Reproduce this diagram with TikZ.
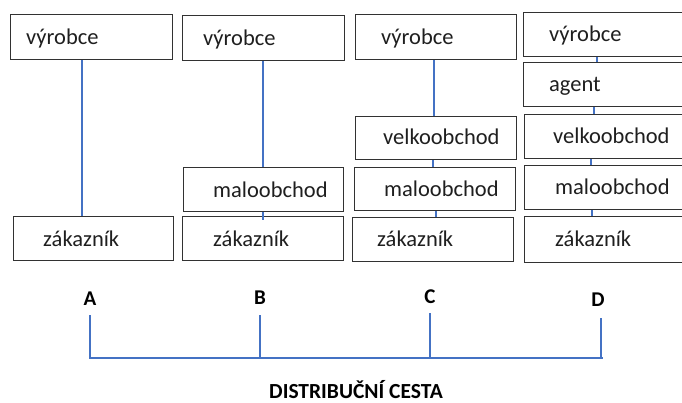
\documentclass[tikz,border=0pt]{standalone}
\usepackage{fontspec}
\setmainfont{Carlito}
\definecolor{lineblue}{RGB}{68,114,196}
\definecolor{boxgray}{RGB}{50,50,50}
\tikzset{
  box/.style={draw=boxgray, line width=1pt, fill=white, inner sep=0pt},
  txt/.style={anchor=base west, inner sep=0pt, font=\fontsize{22.5}{26}\selectfont, text=black!88},
  conn/.style={draw=lineblue, line width=2pt},
  letter/.style={anchor=base, inner sep=0pt, font=\fontsize{21}{24}\selectfont\bfseries},
  titletxt/.style={anchor=base, inner sep=0pt, font=\fontsize{21.5}{24}\selectfont\bfseries},
}
\newcommand{\mybox}[5]{% name, x1, y1, x2, y2
  \node[box, minimum width={#4-#2}, minimum height={#5-#3}] (#1) at ({(#2+#4)/2},{(#3+#5)/2}) {};}
\begin{document}
\begin{tikzpicture}[x=1pt,y=-1pt]
\useasboundingbox (0,0) rectangle (682,403);
% column A
\mybox{a1}{10}{15}{172}{60}
\mybox{a2}{13}{217}{173}{260}
% column B
\mybox{b1}{182}{16}{344}{61}
\mybox{b2}{183}{168}{343}{212}
\mybox{b3}{182}{217}{343}{260}
% column C
\mybox{c1}{355}{15}{516}{60}
\mybox{c2}{355}{117}{516}{160}
\mybox{c3}{354}{168}{515}{211}
\mybox{c4}{352}{218}{513}{261}
% column D
\mybox{d1}{523}{13}{690}{57}
\mybox{d2}{523}{63}{690}{107}
\mybox{d3}{524}{115}{690}{159}
\mybox{d4}{524}{166}{690}{210}
\mybox{d5}{524}{217}{690}{262}
% texts
\node[txt] (ta1) at (26,45) {výrobce};
\node[txt] (ta2) at (43,247) {zákazník};
\node[txt] (tb1) at (203,46) {výrobce};
\node[txt] (tb2) at (213,198) {maloobchod};
\node[txt] (tb3) at (213,247) {zákazník};
\node[txt] (tc1) at (381,45) {výrobce};
\node[txt] (tc2) at (383,145) {velkoobchod};
\node[txt] (tc3) at (384,197) {maloobchod};
\node[txt] (tc4) at (377,247) {zákazník};
\node[txt] (td1) at (549,42) {výrobce};
\node[txt] (td2) at (549,92) {agent};
\node[txt] (td3) at (553,144) {velkoobchod};
\node[txt] (td4) at (555,195) {maloobchod};
\node[txt] (td5) at (555,247) {zákazník};
% connector x positions
\coordinate (xa) at (82,0);
\coordinate (xb) at (263,0);
\coordinate (xc1) at (434,0);
\coordinate (xc2) at (433,0);
\coordinate (xc3) at (436,0);
\coordinate (xd1) at (597,0);
\coordinate (xd2) at (594,0);
\coordinate (xd3) at (591,0);
\coordinate (xd4) at (592,0);
\draw[conn] (xa |- a1.south) -- (xa |- a2.north);
\draw[conn] (xb |- b1.south) -- (xb |- b2.north);
\draw[conn] (xb |- b2.south) -- ++(0,8);
\draw[conn] (xc1 |- c1.south) -- (xc1 |- c2.north);
\draw[conn] (xc2 |- c2.south) -- (xc2 |- c3.north);
\draw[conn] (xc3 |- c3.south) -- (xc3 |- c4.north);
\draw[conn] (xd1 |- d1.south) -- (xd1 |- d2.north);
\draw[conn] (xd2 |- d2.south) -- (xd2 |- d3.north);
\draw[conn] (xd3 |- d3.south) -- (xd3 |- d4.north);
\draw[conn] (xd4 |- d4.south) -- (xd4 |- d5.north);
% bottom
\node[letter] (la) at (90,305) {A};
\node[letter] (lb) at (260,304) {B};
\node[letter] (lc) at (430,303) {C};
\node[letter] (ld) at (598,306) {D};
\coordinate (pa) at (90,315);
\coordinate (pb) at (260,315);
\coordinate (pc) at (430,313);
\coordinate (pd) at (601,318);
\coordinate (ba) at (90,358);
\coordinate (bd) at (603,358);
\draw[conn] (pa) -- (ba) -- (bd);
\draw[conn] (pb) -- (pb |- ba);
\draw[conn] (pc) -- (pc |- ba);
\draw[conn] (pd) -- (pd |- ba);
\node[titletxt] (title) at (356,398) {DISTRIBUČNÍ CESTA};
\end{tikzpicture}
\end{document}
